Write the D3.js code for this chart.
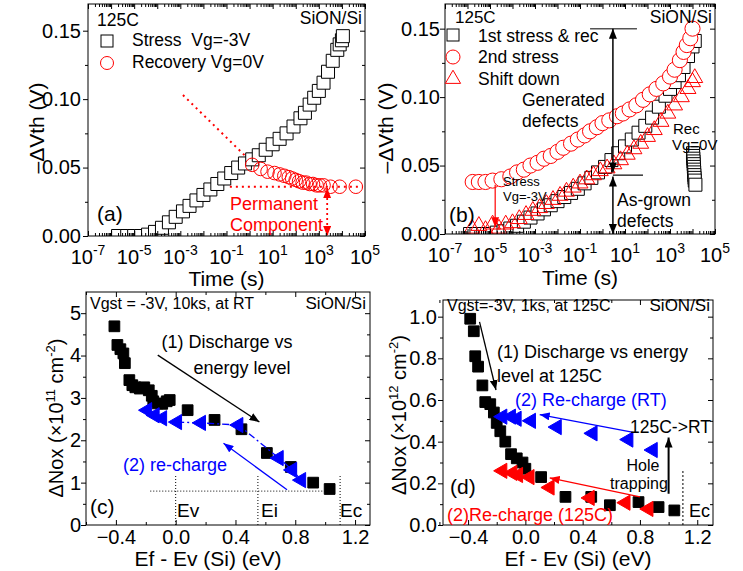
<!DOCTYPE html>
<html>
<head>
<meta charset="utf-8">
<script src="https://cdn.jsdelivr.net/npm/d3@7"></script>
<style>
  body { margin: 0; background: #fff; }
  svg text { font-family: Arial, "Liberation Sans", Helvetica, sans-serif; }
</style>
</head>
<body>
<svg id="fig" width="743" height="571"></svg>
<script>
// ---- (a) stress / recovery at 125C ----
var aStressT = [2e-6, 5e-6, 1e-5, 2e-5, 4e-5, 8e-5, 1.6e-4, 3.2e-4, 6.3e-4, 1.3e-3, 2.5e-3, 5e-3, 0.01, 0.02, 0.04, 0.08, 0.16, 0.32, 0.63, 1.3, 2.5, 5, 10, 20, 40, 80, 160, 250, 400, 630, 1000, 1600, 2500, 4000, 6300, 8000, 10000, 11000];
var aStressV = [0, 0, 0, 0, 0.001, 0.003, 0.006, 0.010, 0.014, 0.018, 0.022, 0.026, 0.030, 0.034, 0.038, 0.042, 0.046, 0.050, 0.053, 0.056, 0.059, 0.063, 0.067, 0.071, 0.075, 0.080, 0.086, 0.090, 0.096, 0.101, 0.106, 0.112, 0.120, 0.128, 0.136, 0.140, 0.143, 0.146];
var aRecT = [1.3, 3, 6, 12, 20, 32, 50, 70, 100, 140, 200, 280, 400, 560, 800, 1100, 1600, 3200, 8000, 40000];
var aRecV = [0.052, 0.049, 0.047, 0.046, 0.045, 0.044, 0.043, 0.042, 0.041, 0.040, 0.039, 0.039, 0.038, 0.038, 0.037, 0.037, 0.037, 0.036, 0.036, 0.036];

// ---- (b) 1st stress & rec, 2nd stress, shifted down ----
var bFirstT = [1.3e-6, 2.5e-6, 5e-6, 1e-5, 2e-5, 4e-5, 8e-5, 1.6e-4, 3.2e-4, 6.3e-4, 1.3e-3, 2.5e-3, 5e-3, 0.01, 0.02, 0.04, 0.08, 0.16, 0.32, 0.63, 1.3, 2.5, 5, 10, 20, 40, 80, 160, 320, 630, 1000, 1600, 2500, 4000, 6300, 10000, 12600,
               10500, 10700, 10900, 11100, 11300, 11500, 11700, 11900, 12100, 12300, 12600, 13500];
var bFirstV = [0, 0, 0, 0, 0.001, 0.002, 0.004, 0.006, 0.009, 0.012, 0.015, 0.018, 0.021, 0.024, 0.027, 0.030, 0.033, 0.037, 0.041, 0.045, 0.049, 0.054, 0.059, 0.064, 0.069, 0.074, 0.079, 0.085, 0.093, 0.101, 0.106, 0.111, 0.116, 0.122, 0.130, 0.137, 0.141,
               0.059, 0.057, 0.055, 0.053, 0.051, 0.049, 0.047, 0.045, 0.043, 0.041, 0.039, 0.036];
var bSecondT = [1.7e-6, 3.2e-6, 6.3e-6, 1.3e-5, 3.2e-5, 8e-5, 1.6e-4, 3.2e-4, 6.3e-4, 1.3e-3, 2.5e-3, 5e-3, 0.01, 0.018, 0.04, 0.08, 0.16, 0.28, 0.56, 1, 2, 4.4, 8, 16, 32, 63, 126, 250, 500, 1000, 1600, 2750, 4000, 5600, 8000, 10000];
var bSecondV = [0.038, 0.038, 0.038, 0.039, 0.040, 0.042, 0.045, 0.047, 0.050, 0.052, 0.055, 0.057, 0.060, 0.063, 0.066, 0.069, 0.072, 0.075, 0.078, 0.081, 0.083, 0.086, 0.088, 0.091, 0.094, 0.098, 0.102, 0.106, 0.110, 0.115, 0.120, 0.127, 0.133, 0.138, 0.143, 0.150];
var bShiftT = [1.6e-6, 3.2e-6, 6.3e-6, 1.3e-5, 2.5e-5, 5e-5, 1e-4, 2e-4, 4e-4, 8e-4, 1.6e-3, 3.2e-3, 6.3e-3, 0.013, 0.025, 0.05, 0.1, 0.2, 0.4, 0.8, 1.6, 3.2, 6.3, 12.6, 25, 50, 100, 200, 400, 800, 1600, 3200, 6300, 10000, 12600];
var bShiftV = [0.004, 0.006, 0.003, 0.007, 0.004, 0.007, 0.008, 0.011, 0.014, 0.017, 0.019, 0.022, 0.025, 0.028, 0.031, 0.034, 0.037, 0.040, 0.043, 0.046, 0.048, 0.051, 0.054, 0.058, 0.062, 0.066, 0.071, 0.076, 0.082, 0.088, 0.094, 0.100, 0.106, 0.111, 0.114];

// ---- (c) RT: discharge vs energy level and re-charge ----
var cSqE = [-0.41, -0.39, -0.37, -0.35, -0.34, -0.31, -0.29, -0.27, -0.24, -0.21, -0.18, -0.16, -0.15, -0.12, -0.09, -0.06, -0.04, 0.08, 0.26, 0.44, 0.61, 0.77, 0.92, 1.03];
var cSqN = [4.69, 4.25, 4.15, 4.05, 3.82, 3.42, 3.30, 3.25, 3.22, 3.25, 3.18, 3.05, 2.92, 2.87, 2.86, 2.92, 2.95, 2.71, 2.48, 2.26, 1.70, 1.37, 1.00, 0.85];
var cTriE = [-0.19, -0.14, -0.09, 0.01, 0.17, 0.42, 0.69, 0.78, 0.84];
var cTriN = [2.71, 2.59, 2.52, 2.43, 2.41, 2.36, 1.58, 1.30, 1.06];

// ---- (d) 125C: discharge, re-charge at RT and at 125C ----
var dSqE = [-0.385, -0.36, -0.35, -0.33, -0.30, -0.28, -0.245, -0.22, -0.20, -0.175, -0.14, -0.10, -0.06, -0.02, 0.0, 0.11, 0.28, 0.46, 0.59, 0.79, 0.93, 1.04];
var dSqN = [0.99, 0.93, 0.81, 0.76, 0.67, 0.59, 0.58, 0.54, 0.49, 0.45, 0.40, 0.34, 0.32, 0.30, 0.27, 0.23, 0.135, 0.135, 0.095, 0.11, 0.086, 0.07];
var dBlueE = [-0.16, -0.10, -0.06, 0.04, 0.22, 0.47, 0.72, 0.89];
var dBlueN = [0.52, 0.52, 0.51, 0.50, 0.47, 0.44, 0.41, 0.36];
var dRedE = [-0.16, -0.09, -0.05, 0.03, 0.17, 0.45, 0.70, 0.86];
var dRedN = [0.26, 0.25, 0.24, 0.23, 0.18, 0.13, 0.107, 0.077];

// ---- tick labels ----
var timeExp = [-7, -5, -3, -1, 1, 3, 5];
var vthTicks = [0, 0.05, 0.10, 0.15];
var vthMinor = [0.025, 0.075, 0.125];
var energyTicks = [-0.4, 0.0, 0.4, 0.8, 1.2];
var energyMinor = [-0.6, -0.2, 0.2, 0.6, 1.0];
var cNoxTicks = [0, 1, 2, 3, 4, 5];
var cNoxMinor = [0.5, 1.5, 2.5, 3.5, 4.5];
var dNoxTicks = [0, 0.2, 0.4, 0.6, 0.8, 1.0];
var dNoxMinor = [0.1, 0.3, 0.5, 0.7, 0.9];

var svg = d3.select('#fig');
var clipCount = 0;
var defs = svg.append('defs');

function arrowMarker(id, color) {
  defs.append('marker').attr('id', id)
    .attr('viewBox', '0 0 10 8').attr('refX', 10).attr('refY', 4)
    .attr('markerWidth', 10).attr('markerHeight', 8)
    .attr('markerUnits', 'userSpaceOnUse').attr('orient', 'auto-start-reverse')
    .append('path').attr('d', 'M0,0L10,4L0,8Z').attr('fill', color);
}
arrowMarker('ahBlack', '#000');
arrowMarker('ahRed', '#f00');
arrowMarker('ahBlue', '#00f');

function makePanel(box, x, y) {
  var g = svg.append('g');
  var id = 'clip' + (clipCount++);
  g.append('clipPath').attr('id', id).append('rect')
    .attr('x', box.l).attr('y', box.t).attr('width', box.r - box.l).attr('height', box.b - box.t);
  var plot = g.append('g').attr('clip-path', 'url(#' + id + ')');
  return { g: g, plot: plot, box: box, x: x, y: y };
}

function noLabel() { return ''; }

function axes(p, o) {
  var g = p.g, box = p.box;
  function put(gen, tx, ty) {
    return g.append('g').attr('transform', 'translate(' + tx + ',' + ty + ')').call(gen)
      .call(function (s) { s.select('.domain').remove(); })
      .attr('font-family', 'Arial, "Liberation Sans", sans-serif').attr('font-size', 20);
  }
  put(d3.axisBottom(p.x).tickValues(o.xMajor).tickSize(-5).tickPadding(o.xPad || 5).tickFormat(o.xFmt), 0, box.b);
  put(d3.axisBottom(p.x).tickValues(o.xMinor).tickSize(-3).tickFormat(noLabel), 0, box.b);
  put(d3.axisTop(p.x).tickValues(o.xMajor).tickSize(-5).tickFormat(noLabel), 0, box.t);
  put(d3.axisTop(p.x).tickValues(o.xMinor).tickSize(-3).tickFormat(noLabel), 0, box.t);
  put(d3.axisLeft(p.y).tickValues(o.yMajor).tickSize(5).tickPadding(o.yPad).tickFormat(o.yFmt), box.l, 0);
  put(d3.axisLeft(p.y).tickValues(o.yMinor).tickSize(3).tickFormat(noLabel), box.l, 0);
  put(d3.axisRight(p.y).tickValues(o.yMajor).tickSize(-5).tickFormat(noLabel), box.r, 0);
  put(d3.axisRight(p.y).tickValues(o.yMinor).tickSize(-3).tickFormat(noLabel), box.r, 0);
  g.append('rect').attr('x', box.l).attr('y', box.t)
    .attr('width', box.r - box.l).attr('height', box.b - box.t)
    .attr('fill', 'none').attr('stroke', '#000').attr('stroke-width', 1);
}

function logMinor(lo, hi) {
  var m = [];
  for (var e = lo; e < hi; e++) {
    for (var k = 2; k <= 9; k++) m.push(k * Math.pow(10, e));
  }
  return m;
}
function logMajor(lo, hi) {
  var m = [];
  for (var e = lo; e <= hi; e++) m.push(Math.pow(10, e));
  return m;
}

function timeLabels(p, baseline) {
  timeExp.forEach(function (e) {
    var t = p.g.append('text').attr('x', p.x(Math.pow(10, e))).attr('y', baseline)
      .attr('text-anchor', 'middle').attr('font-size', 20);
    t.append('tspan').text('10');
    t.append('tspan').attr('dy', -9).attr('font-size', 14).text(e);
  });
}

function label(g, x, y, str, size, color, anchor) {
  return g.append('text').attr('x', x).attr('y', y)
    .attr('font-size', size || 17.5).attr('fill', color || '#000')
    .attr('text-anchor', anchor || 'start').text(str);
}

function yTitle(g, x, y, parts, size) {
  var t = g.append('text').attr('transform', 'translate(' + x + ',' + y + ') rotate(-90)')
    .attr('text-anchor', 'middle').attr('font-size', size || 21);
  parts.forEach(function (pt) {
    var s = t.append('tspan').text(pt[0]);
    if (pt[1]) s.attr('dy', pt[1]);
    if (pt[2]) s.attr('font-size', pt[2]);
  });
}

function arrow(g, x1, y1, x2, y2, color, marker, both, width, dash) {
  var l = g.append('line').attr('x1', x1).attr('y1', y1).attr('x2', x2).attr('y2', y2)
    .attr('stroke', color).attr('stroke-width', width || 1.3)
    .attr('marker-end', 'url(#' + marker + ')');
  if (both) l.attr('marker-start', 'url(#' + marker + ')');
  if (dash) l.attr('stroke-dasharray', dash);
  return l;
}

function symbols(g, xs, ys, type, size, stroke, fill, rotate, sw) {
  var sym = d3.symbol().type(type).size(size);
  g.selectAll(null).data(xs).enter().append('path')
    .attr('d', sym)
    .attr('transform', function (d, i) { return 'translate(' + d + ',' + ys[i] + ')' + (rotate ? ' rotate(' + rotate + ')' : ''); })
    .attr('fill', fill).attr('stroke', stroke).attr('stroke-width', sw || 1);
}

// ===================== panel (a) =====================
(function () {
  var box = { l: 88, t: 4, r: 365, b: 236 };
  var x = d3.scaleLog().domain([1e-7, 1e5]).range([box.l, box.r]);
  var y = d3.scaleLinear().domain([0, 0.1695]).range([box.b, box.t]);
  var p = makePanel(box, x, y);

  symbols(p.plot, aStressT.map(x), aStressV.map(y), d3.symbolSquare, 169, '#000', '#fff');
  symbols(p.plot, aRecT.map(x), aRecV.map(y), d3.symbolCircle, 145, '#f00', 'none');

  // extrapolation and permanent component
  p.plot.append('line').attr('x1', x(1.3e-3)).attr('y1', y(0.103)).attr('x2', x(0.8)).attr('y2', y(0.057))
    .attr('stroke', '#ff0000').attr('stroke-width', 2).attr('stroke-dasharray', '2,4');
  p.plot.append('line').attr('x1', x(0.14)).attr('y1', y(0.036)).attr('x2', x(8e4)).attr('y2', y(0.036))
    .attr('stroke', '#ff0000').attr('stroke-width', 2).attr('stroke-dasharray', '2,4');
  arrow(p.g, x(2300), y(0.035), x(2300), y(0), '#f00', 'ahRed', true, 1.8, '2,3');

  axes(p, { xMajor: logMajor(-7, 5), xMinor: logMinor(-7, 5), xFmt: noLabel,
            yMajor: vthTicks, yMinor: vthMinor, yFmt: d3.format('.2f'), yPad: 2 });
  timeLabels(p, 264);
  label(p.g, (box.l + box.r) / 2, 286, 'Time (s)', 21, '#000', 'middle');
  yTitle(p.g, 44, 128, [['\u2013\u0394Vth (V)']]);

  label(p.g, 97, 26, '125C');
  p.g.append('rect').attr('x', 101).attr('y', 35).attr('width', 12).attr('height', 12).attr('fill', 'none').attr('stroke', '#000');
  label(p.g, 132, 46, 'Stress\u00a0 Vg=-3V');
  p.g.append('circle').attr('cx', 107).attr('cy', 63).attr('r', 6.5).attr('fill', 'none').attr('stroke', '#f00');
  label(p.g, 132, 68, 'Recovery Vg=0V');
  label(p.g, 362, 24, 'SiON/Si', 17.5, '#000', 'end');
  label(p.g, 230, 210, 'Permanent', 18, '#f00');
  label(p.g, 230, 231, 'Component', 18, '#f00');
  label(p.g, 97, 221, '(a)', 21);
})();

// ===================== panel (b) =====================
(function () {
  var box = { l: 445, t: 4, r: 715, b: 234 };
  var x = d3.scaleLog().domain([1e-7, 1e5]).range([box.l, box.r]);
  var y = d3.scaleLinear().domain([0, 0.168]).range([box.b, box.t]);
  var p = makePanel(box, x, y);

  symbols(p.plot, bFirstT.map(x), bFirstV.map(y), d3.symbolSquare, 169, '#000', '#fff');
  symbols(p.plot, bShiftT.map(x), bShiftV.map(y), d3.symbolTriangle, 110, '#f00', 'none');
  symbols(p.plot, bSecondT.map(x), bSecondV.map(y), d3.symbolCircle, 180, '#f00', '#fff');

  // generated vs as-grown defects
  p.g.append('line').attr('x1', x(0.28)).attr('y1', y(0.15)).attr('x2', x(34)).attr('y2', y(0.15))
    .attr('stroke', '#555').attr('stroke-width', 1.5);
  p.g.append('line').attr('x1', x(2.9)).attr('y1', y(0.043)).attr('x2', x(63)).attr('y2', y(0.043))
    .attr('stroke', '#000').attr('stroke-width', 1.2);
  arrow(p.g, x(2.9), y(0.15), x(2.9), y(0.045), '#000', 'ahBlack', true, 1.5);
  arrow(p.g, x(2.9), y(0.042), x(2.9), y(0.0), '#000', 'ahBlack', true, 1.5);
  arrow(p.g, x(1.7e-5), y(0.036), x(1.7e-5), y(0.005), '#f00', 'ahRed', false, 1.2);

  axes(p, { xMajor: logMajor(-7, 5), xMinor: logMinor(-7, 5), xFmt: noLabel,
            yMajor: vthTicks, yMinor: vthMinor, yFmt: d3.format('.2f'), yPad: 0 });
  timeLabels(p, 262);
  label(p.g, (box.l + box.r) / 2, 285, 'Time (s)', 21, '#000', 'middle');
  yTitle(p.g, 393, 128, [['\u2013\u0394Vth (V)']]);

  label(p.g, 455, 23, '125C', 17);
  p.g.append('rect').attr('x', 447).attr('y', 29).attr('width', 12).attr('height', 12).attr('fill', 'none').attr('stroke', '#000');
  label(p.g, 478, 42, '1st stress & rec');
  p.g.append('circle').attr('cx', 453).attr('cy', 57).attr('r', 7).attr('fill', 'none').attr('stroke', '#f00');
  label(p.g, 478, 63, '2nd stress');
  p.g.append('path').attr('d', d3.symbol().type(d3.symbolTriangle).size(100)).attr('transform', 'translate(453,79)')
    .attr('fill', 'none').attr('stroke', '#f00');
  label(p.g, 478, 85, 'Shift down');
  label(p.g, 712, 23, 'SiON/Si', 17.5, '#000', 'end');
  label(p.g, 522, 106, 'Generated', 17.5);
  label(p.g, 522, 127, 'defects', 17.5);
  label(p.g, 617, 206, 'As-grown', 17.5);
  label(p.g, 617, 227, 'defects', 17.5);
  label(p.g, 503, 186, 'Stress', 13);
  label(p.g, 503, 201, 'Vg=-3V', 13);
  label(p.g, 673, 134, 'Rec', 15);
  label(p.g, 672, 150, 'Vg=0V', 15);
  label(p.g, 449, 222, '(b)', 21);
})();

// ===================== panel (c) =====================
(function () {
  var box = { l: 86, t: 292, r: 370, b: 525 };
  var x = d3.scaleLinear().domain([-0.6, 1.3]).range([box.l, box.r]);
  var y = d3.scaleLinear().domain([0, 5.5]).range([box.b, box.t]);
  var p = makePanel(box, x, y);

  // band reference lines
  [0, 0.55, 1.1].forEach(function (e) {
    p.plot.append('line').attr('x1', x(e)).attr('x2', x(e)).attr('y1', y(0)).attr('y2', y(1.2))
      .attr('stroke', '#000').attr('stroke-width', 1).attr('stroke-dasharray', '1,2');
  });
  p.plot.append('line').attr('x1', x(-0.17)).attr('x2', x(1.06)).attr('y1', y(0.8)).attr('y2', y(0.8))
    .attr('stroke', '#000').attr('stroke-width', 1).attr('stroke-dasharray', '1,2');

  symbols(p.plot, cSqE.map(x), cSqN.map(y), d3.symbolSquare, 115, '#000', '#000');
  var tri = cTriE.map(function (e, i) { return [x(e), y(cTriN[i])]; }).slice(3);
  p.plot.append('path').attr('d', d3.line()(tri)).attr('fill', 'none').attr('stroke', '#00f')
    .attr('stroke-width', 1.3).attr('stroke-dasharray', '7,3,2,3');
  symbols(p.plot, cTriE.map(x), cTriN.map(y), d3.symbolTriangle, 100, '#00f', '#00f', -90);

  arrow(p.g, x(-0.12), y(4.01), x(0.56), y(2.43), '#000', 'ahBlack', false, 1.3);
  arrow(p.g, x(0.745), y(0.83), x(0.32), y(1.93), '#00f', 'ahBlue', false, 1.3);

  axes(p, { xMajor: energyTicks, xMinor: energyMinor, xFmt: d3.format('.1f'), xPad: 5,
            yMajor: cNoxTicks, yMinor: cNoxMinor, yFmt: d3.format('d'), yPad: 0 });
  label(p.g, 208, 566, 'Ef - Ev (Si) (eV)', 21, '#000', 'middle');
  yTitle(p.g, 63, 418, [['\u0394Nox (\u00d710'], ['11', -8, 13], [' cm', 8], ['-2', -8, 13], [')', 8]], 20);

  label(p.g, 90, 309, 'Vgst = -3V, 10ks, at RT', 16);
  label(p.g, 366, 309, 'SiON/Si', 17, '#000', 'end');
  label(p.g, 227, 348, '(1) Discharge vs', 18, '#000', 'middle');
  label(p.g, 242, 374, 'energy level', 18, '#000', 'middle');
  label(p.g, 123, 471, '(2) re-charge', 18, '#00f');
  label(p.g, 90, 514, '(c)', 21);
  label(p.g, 177, 517, 'Ev', 19);
  label(p.g, 261, 517, 'Ei', 19);
  label(p.g, 340, 517, 'Ec', 19);
})();

// ===================== panel (d) =====================
(function () {
  var box = { l: 443, t: 300, r: 713, b: 525 };
  var x = d3.scaleLinear().domain([-0.575, 1.31]).range([box.l, box.r]);
  var y = d3.scaleLinear().domain([0, 1.08]).range([box.b, box.t]);
  var p = makePanel(box, x, y);

  p.plot.append('line').attr('x1', x(1.1)).attr('x2', x(1.1)).attr('y1', y(0)).attr('y2', y(0.26))
    .attr('stroke', '#000').attr('stroke-width', 1).attr('stroke-dasharray', '2,2');

  symbols(p.plot, dSqE.map(x), dSqN.map(y), d3.symbolSquare, 115, '#000', '#000');
  symbols(p.plot, dBlueE.map(x), dBlueN.map(y), d3.symbolTriangle, 100, '#00f', '#00f', -90);
  symbols(p.plot, dRedE.map(x), dRedN.map(y), d3.symbolTriangle, 100, '#f00', '#f00', -90);

  arrow(p.g, x(-0.32), y(0.975), x(-0.205), y(0.648), '#000', 'ahBlack', false, 1.3);
  arrow(p.g, x(0.745), y(0.446), x(0.10), y(0.53), '#00f', 'ahBlue', false, 1.3);
  arrow(p.g, x(0.80), y(0.135), x(0.17), y(0.226), '#f00', 'ahRed', false, 1.3);
  arrow(p.g, x(1.0), y(0.15), x(1.0), y(0.42), '#000', 'ahBlack', false, 2);

  axes(p, { xMajor: energyTicks, xMinor: energyMinor, xFmt: d3.format('.1f'), xPad: 5,
            yMajor: dNoxTicks, yMinor: dNoxMinor, yFmt: d3.format('.1f'), yPad: 1 });
  label(p.g, (box.l + box.r) / 2, 566, 'Ef - Ev (Si) (eV)', 21, '#000', 'middle');
  yTitle(p.g, 406, 415, [['\u0394Nox (\u00d710'], ['12', -8, 13], [' cm', 8], ['-2', -8, 13], [')', 8]], 20);

  label(p.g, 447, 311, 'Vgst=-3V, 1ks, at 125C', 16);
  label(p.g, 710, 311, 'SiON/Si', 17, '#000', 'end');
  label(p.g, 497, 358, '(1) Discharge vs energy', 18);
  label(p.g, 497, 382, 'level at 125C', 18);
  label(p.g, 515, 406, '(2) Re-charge (RT)', 18, '#00f');
  label(p.g, 630, 433, '125C->RT', 17.5);
  label(p.g, 643, 471, 'Hole', 16, '#000', 'middle');
  label(p.g, 639, 489, 'trapping', 16, '#000', 'middle');
  label(p.g, 447, 521, '(2)Re-charge (125C)', 18, '#f00');
  label(p.g, 450, 494, '(d)', 21);
  label(p.g, 689, 517, 'Ec', 18);
})();
</script>
</body>
</html>
